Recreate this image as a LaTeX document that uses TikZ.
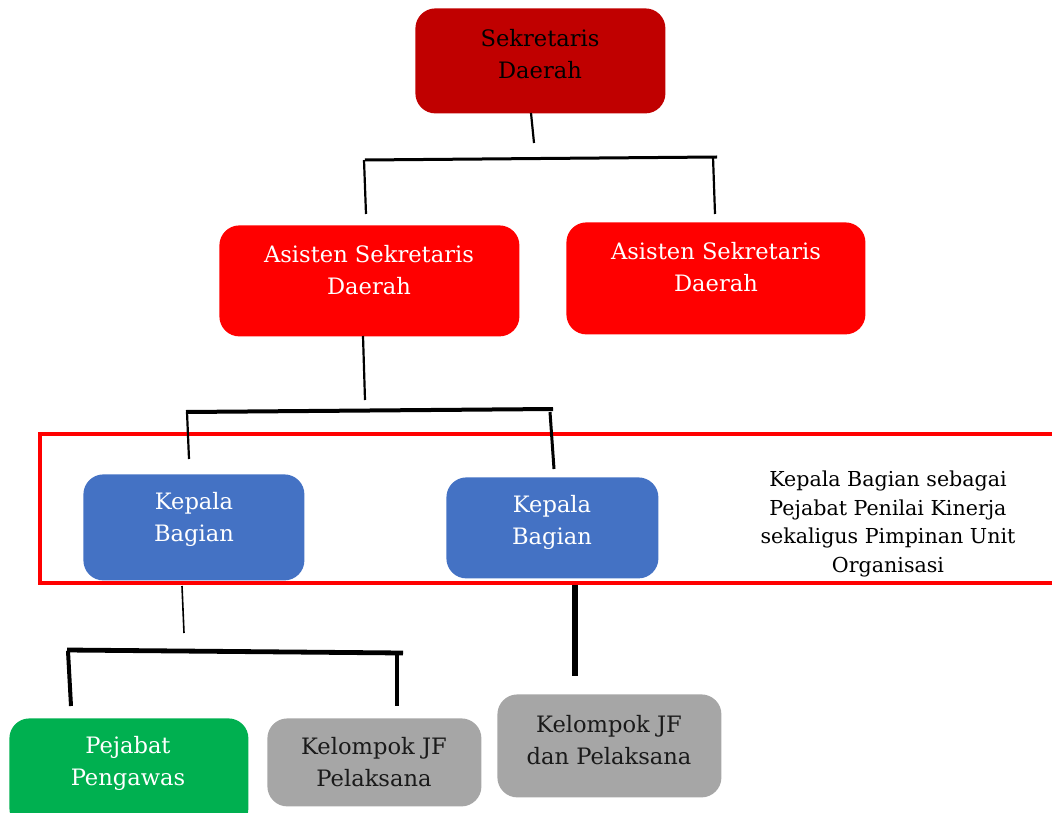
\documentclass[tikz,border=0pt]{standalone}
\usepackage{fontspec}
\setmainfont{DejaVu Serif}
\begin{document}
\begin{tikzpicture}[x=0.5pt,y=-0.5pt,
  box/.style={rounded corners=10pt, inner sep=0pt, draw=none, anchor=north west},
  lbl/.style={align=center, font=\fontsize{11.3}{16}\selectfont, inner sep=0pt},
  note/.style={align=center, font=\fontsize{10.3}{14.2}\selectfont, inner sep=0pt},
  wire/.style={line width=1.1pt, line cap=butt},
  bar/.style={line width=2pt, line cap=butt}]
\definecolor{sekred}{HTML}{C00000}
\definecolor{asred}{HTML}{FF0000}
\definecolor{kbblue}{HTML}{4472C4}
\definecolor{pgreen}{HTML}{00B050}
\definecolor{jfgray}{HTML}{A6A6A6}
\definecolor{ink}{HTML}{1A1A1A}
\useasboundingbox (0,0) rectangle (1052,812);
\begin{scope}
\clip (0,0) rectangle (1052,812);

% boxes
\node[box, fill=sekred, minimum width=250*0.5pt, minimum height=105*0.5pt] (sd) at (415,8) {};
\node[box, fill=asred, minimum width=300*0.5pt, minimum height=111*0.5pt] (asA) at (219,225) {};
\node[box, fill=asred, minimum width=299*0.5pt, minimum height=112*0.5pt] (asB) at (566,222) {};
\node[box, fill=kbblue, minimum width=221*0.5pt, minimum height=106*0.5pt] (kbA) at (83,474) {};
\node[box, fill=kbblue, minimum width=212*0.5pt, minimum height=101*0.5pt] (kbB) at (446,477) {};
\node[box, fill=pgreen, minimum width=239*0.5pt, minimum height=110*0.5pt] (pp) at (9,718) {};
\node[box, fill=jfgray, minimum width=214*0.5pt, minimum height=88*0.5pt] (jfA) at (267,718) {};
\node[box, fill=jfgray, minimum width=224*0.5pt, minimum height=103*0.5pt] (jfB) at (497,694) {};

% labels
\node[lbl, text=black] (sdT) at (540,54) {Sekretaris\\Daerah};
\node[lbl, text=white] (asAT) at (369,270) {Asisten Sekretaris\\Daerah};
\node[lbl, text=white] (asBT) at (716,267) {Asisten Sekretaris\\Daerah};
\node[lbl, text=white] (kbAT) at (194,519) {Kepala\\Bagian};
\node[lbl, text=white] (kbBT) at (552,522) {Kepala\\Bagian};
\node[lbl, text=white] (ppT) at (128,763) {Pejabat\\Pengawas};
\node[lbl, text=ink] (jfAT) at (374,762) {Kelompok JF\\Pelaksana};
\node[lbl, text=ink] (jfBT) at (609,740) {Kelompok JF\\dan Pelaksana};
\node[note, text=black] (nt) at (888,524) {Kepala Bagian sebagai\\Pejabat Penilai Kinerja\\sekaligus Pimpinan Unit\\Organisasi};

% unit frame
\draw[asred, line width=2pt] (40,434) rectangle (1070,583);

% connector end points
\coordinate (c1a) at (531,113); \coordinate (c1b) at (534,143);
\coordinate (h1a) at (365,160); \coordinate (h1b) at (717,157);
\coordinate (v1a) at (364,160); \coordinate (v1b) at (366,214);
\coordinate (v2a) at (713,157); \coordinate (v2b) at (715,214);
\coordinate (c2a) at (363,336); \coordinate (c2b) at (365,400);
\coordinate (h2a) at (186,412); \coordinate (h2b) at (553,409);
\coordinate (v3a) at (187,412); \coordinate (v3b) at (189,459);
\coordinate (v4a) at (550,412); \coordinate (v4b) at (554,469);
\coordinate (c3a) at (182,586); \coordinate (c3b) at (184,633);
\coordinate (h3a) at (67,650);  \coordinate (h3b) at (403,653);
\coordinate (v5a) at (68,651);  \coordinate (v5b) at (71,706);
\coordinate (v6a) at (397,652); \coordinate (v6b) at (397,706);
\coordinate (c4a) at (575,585); \coordinate (c4b) at (575,676);

% connectors
\draw[wire] (c1a) -- (c1b);
\draw[wire, line width=1.5pt] (h1a) -- (h1b);
\draw[wire] (v1a) -- (v1b);
\draw[wire] (v2a) -- (v2b);
\draw[wire] (c2a) -- (c2b);
\draw[bar] (h2a) -- (h2b);
\draw[wire] (v3a) -- (v3b);
\draw[wire, line width=1.5pt] (v4a) -- (v4b);
\draw[wire, line width=0.8pt] (c3a) -- (c3b);
\draw[bar, line width=2.4pt] (h3a) -- (h3b);
\draw[bar] (v5a) -- (v5b);
\draw[bar, line width=2.4pt] (v6a) -- (v6b);
\draw[bar, line width=3pt] (c4a) -- (c4b);
\end{scope}
\end{tikzpicture}
\end{document}
